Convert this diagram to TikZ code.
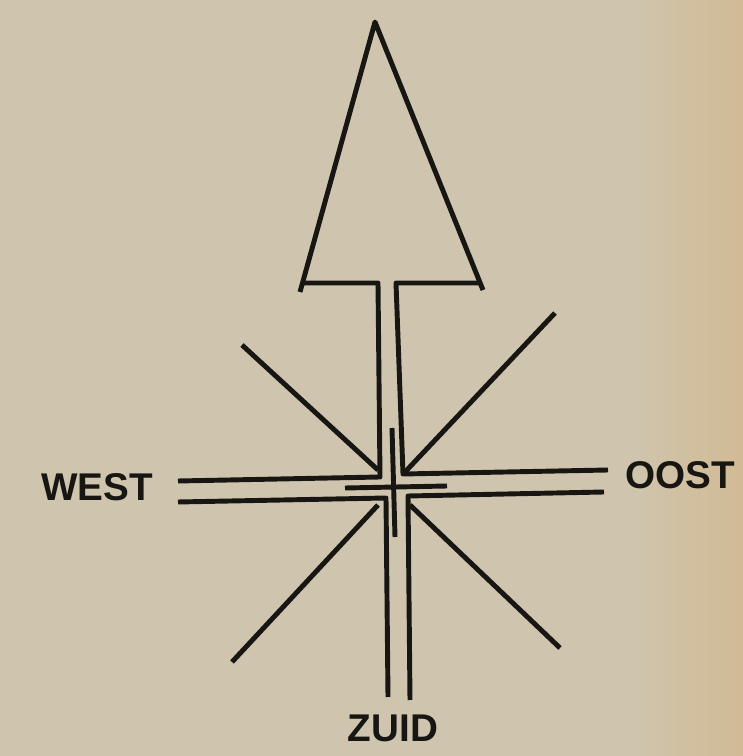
\documentclass[tikz,border=0pt]{standalone}
\usepackage{fontspec}
\setmainfont{Liberation Sans}
\usepackage{xcolor}
\definecolor{paper}{RGB}{207,197,174}
\definecolor{paperedge}{RGB}{210,186,148}
\definecolor{ink}{RGB}{24,22,18}

\begin{document}
\begin{tikzpicture}[scale=1.0]
\useasboundingbox (0,0) rectangle (7.43,7.56);
\fill[paper] (0,0) rectangle (7.43,7.56);
\shade[left color=paper,right color=paperedge] (6.3,0) rectangle (7.43,7.56);
\begin{scope}[ink,line width=1.4pt,line join=round]
% arrow head
\draw (3.00,4.64) -- (3.75,7.34) -- (4.83,4.66);
% shaft and west-east band
\draw (3.03,4.73) -- (3.78,4.73) -- (3.80,2.79) -- (1.78,2.75);
\draw (4.80,4.73) -- (3.96,4.73) -- (4.03,2.82) -- (6.08,2.86);
\draw (1.78,2.54) -- (3.86,2.58) -- (3.88,0.59);
\draw (6.04,2.64) -- (4.08,2.60) -- (4.10,0.56);
% small cross in the middle
\draw (3.45,2.68) -- (4.47,2.70);
\draw (3.92,3.28) -- (3.95,2.19);
% diagonals
\draw (2.42,4.11) -- (3.78,2.86);
\draw (5.55,4.43) -- (4.05,2.84);
\draw (3.78,2.51) -- (2.32,0.94);
\draw (4.10,2.51) -- (5.60,1.08);
\end{scope}
\node[ink,font=\fontsize{11}{11}\selectfont\bfseries] (west) at (0.97,2.69) {WEST};
\node[ink,font=\fontsize{11}{11}\selectfont\bfseries] (oost) at (6.80,2.81) {OOST};
\node[ink,font=\fontsize{11}{11}\selectfont\bfseries] (zuid) at (3.93,0.28) {ZUID};
\end{tikzpicture}
\end{document}
